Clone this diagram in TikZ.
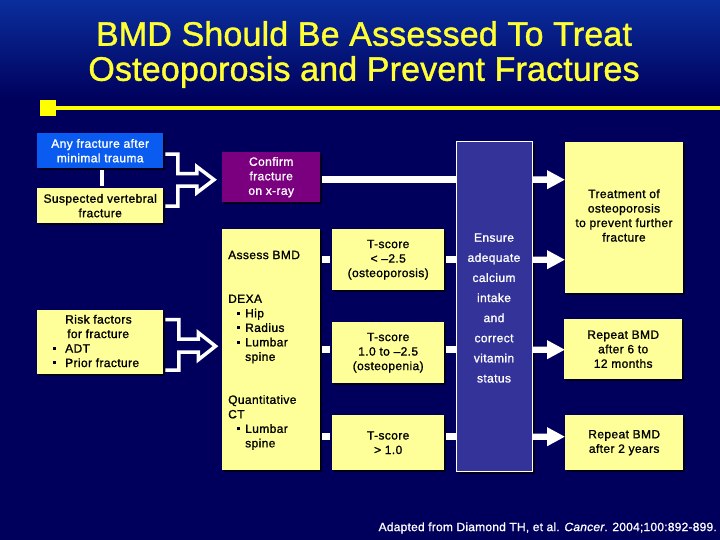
\documentclass[tikz,border=0pt]{standalone}
\usepackage{fontspec}
\setmainfont{Liberation Sans}
\usetikzlibrary{calc,shadows}
\definecolor{navy}{HTML}{00005C}
\definecolor{topblue}{HTML}{0A2E9C}
\definecolor{pale}{HTML}{FFFF99}
\definecolor{fblue}{HTML}{0A5CF0}
\definecolor{fpurple}{HTML}{7B0080}
\definecolor{fensure}{HTML}{333399}
\definecolor{lineyellow}{HTML}{FFFF00}
\definecolor{titleyellow}{HTML}{FFFF33}
\newcommand{\blt}{\makebox[17pt][l]{\hspace{8.5pt}\rule[2.6pt]{3pt}{3pt}}}
\newcommand{\nob}{\hspace*{17pt}}
\newcommand{\bodyfont}{\fontsize{12}{14.5}\selectfont\addfontfeature{FakeBold=1.2,LetterSpace=3.2}}
\tikzset{
 x=1pt,y=-1pt,
 boxbase/.style={inner sep=0pt,anchor=north west,align=center,text=black,font=\bodyfont,
   drop shadow={shadow xshift=2pt,shadow yshift=-2pt,fill=black,opacity=.7}},
 palebox/.style={boxbase,fill=pale},
 bluebox/.style={boxbase,fill=fblue,text=white},
 purplebox/.style={boxbase,fill=fpurple,text=white},
 ensurebox/.style={boxbase,fill=fensure,draw=white,line width=1.2pt,text=white},
 lefttext/.style={inner sep=0pt,anchor=west,align=left,text=black,font=\bodyfont},
 centertext/.style={inner sep=0pt,align=center,text=black,font=\bodyfont},
 ensuretext/.style={inner sep=0pt,text=white,align=center,font=\fontsize{12}{20.1}\selectfont\addfontfeature{FakeBold=1.2,LetterSpace=3.2}},
 linkline/.style={draw=white,line width=6.5pt},
 elbow/.style={draw=white,line width=3.5pt,miter limit=10},
}
\begin{document}
\begin{tikzpicture}
\useasboundingbox (0,0) rectangle (720,540);
\fill[navy] (0,0) rectangle (720,540);
\shade[top color=topblue,bottom color=navy] (0,0) rectangle (720,100);
% title
\node[inner sep=0pt,text=titleyellow,align=center,font=\fontsize{34}{35}\selectfont\addfontfeature{FakeBold=1.2,LetterSpace=0.5}] (title) at (364,54.5)
  {BMD Should Be Assessed To Treat\\Osteoporosis and Prevent Fractures};
% rule
\node[fill=lineyellow,inner sep=0pt,minimum width=16pt,minimum height=16pt] (sq) at (48,108) {};
\coordinate (ruleend) at (720,108);
\draw[lineyellow,line width=4pt] (sq.center) -- (ruleend);
% boxes
\node[bluebox,minimum width=126pt,minimum height=35pt] (any) at (37,133) {Any fracture after\\minimal trauma};
\node[palebox,minimum width=126pt,minimum height=35pt] (susp) at (37,188) {Suspected vertebral\\fracture};
\node[palebox,minimum width=126pt,minimum height=64pt] (risk) at (37,310) {};
\node[lefttext] (risktext) at (53,341) {\hspace*{12pt}Risk factors\\\hspace*{14pt}for fracture\\\rule[2.6pt]{3pt}{3pt}\hspace{9pt}ADT\\\rule[2.6pt]{3pt}{3pt}\hspace{9pt}Prior fracture};
\node[purplebox,minimum width=98pt,minimum height=50pt] (confirm) at (222,152) {Confirm\\fracture\\on x-ray};
\node[palebox,minimum width=98pt,minimum height=241pt] (bmd) at (222,229) {};
\node[lefttext] (assess) at (228,255) {Assess BMD};
\node[lefttext] (dexa) at (228,329) {DEXA\\\blt Hip\\\blt Radius\\\blt Lumbar\\\nob spine};
\node[lefttext] (qct) at (228,422.5) {Quantitative\\CT\\\blt Lumbar\\\nob spine};
\node[palebox,minimum width=112pt,minimum height=61pt] (t1) at (332,229) {T-score\\< –2.5\\(osteoporosis)};
\node[palebox,minimum width=112pt,minimum height=61pt] (t2) at (332,322) {T-score\\1.0 to –2.5\\(osteopenia)};
\node[palebox,minimum width=112pt,minimum height=55pt] (t3) at (332,415) {T-score\\> 1.0};
\node[ensurebox,minimum width=76pt,minimum height=330pt] (ensure) at (456,141) {};
\node[ensuretext] (ensuretxt) at (494,308) {Ensure\\adequate\\calcium\\intake\\and\\correct\\vitamin\\status};
\node[palebox,minimum width=118pt,minimum height=151pt] (treat) at (565,142) {};
\node[centertext] (treattxt) at (624,215.5) {Treatment of\\osteoporosis\\to prevent further\\fracture};
\node[palebox,minimum width=118pt,minimum height=60pt] (rep6) at (564,319) {Repeat BMD\\after 6 to\\12 months};
\node[palebox,minimum width=118pt,minimum height=55pt] (rep2) at (565,415) {Repeat BMD\\after 2 years};
\node[inner sep=0pt,text=white,anchor=east,font=\fontsize{12}{14}\selectfont\addfontfeature{FakeBold=1,LetterSpace=1.9}] (cite) at (717,528)
  {Adapted from Diamond TH, et al. \textit{Cancer}. 2004;100:892-899.};
% connectors
\draw[white,line width=4pt] ([xshift=2pt,yshift=-2pt]any.south) -- ([xshift=2pt,yshift=2pt]susp.north);
\draw[elbow] ($(any.east)+(2,3.5)$) -- ($(any.east)+(14.5,3.5)$) -- ($(any.east)+(14.5,23)$) -- ($(any.east)+(33.5,23)$) -- ($(any.east)+(33.5,16)$)
  -- ($(confirm.west)+(-8,2.5)$) -- ($(susp.east)+(33.5,-13)$) -- ($(susp.east)+(33.5,-19.5)$) -- ($(susp.east)+(14.5,-19.5)$) -- ($(susp.east)+(14.5,0.5)$) -- ($(susp.east)+(2,0.5)$);
\draw[elbow] ($(risk.east)+(2,-22.5)$) -- ($(risk.east)+(15.5,-22.5)$) -- ($(risk.east)+(15.5,-3)$) -- ($(risk.east)+(35,-3)$) -- ($(risk.east)+(35,-9.5)$)
  -- ($(bmd.west |- risk.east)+(-6.5,4)$) -- ($(risk.east)+(35,17.5)$) -- ($(risk.east)+(35,10)$) -- ($(risk.east)+(15.5,10)$) -- ($(risk.east)+(15.5,28)$) -- ($(risk.east)+(2,28)$);
% link bars: each ends at the named boxes, at the height of the row
\draw[linkline] ($(confirm.east)+(2,2.5)$) -- ($(ensure.west |- confirm.east)+(0,2.5)$);
\foreach \nm/\off in {t1/0,t2/-3,t3/-6}{
  \draw[linkline] ($(\nm.west)+(-10,\off)$) -- ($(\nm.west)+(-2,\off)$);
  \draw[linkline] ($(\nm.east)+(2,\off)$) -- ($(ensure.west |- \nm.east)+(0,\off)$);
}
% block arrows, from the Ensure box to the outcome boxes
\foreach \src/\off in {confirm/2.5,t1/0,t2/-3,t3/-6}{
  \coordinate (st) at ($(ensure.east |- \src.east)+(0,\off)$);
  \fill[white] ($(st)+(0,-3.2)$) -- ($(st)+(14,-3.2)$) -- ($(st)+(14,-9.5)$) -- ($(st)+(31.5,0)$) -- ($(st)+(14,9.5)$) -- ($(st)+(14,3.2)$) -- ($(st)+(0,3.2)$) -- cycle;
}
\end{tikzpicture}
\end{document}
